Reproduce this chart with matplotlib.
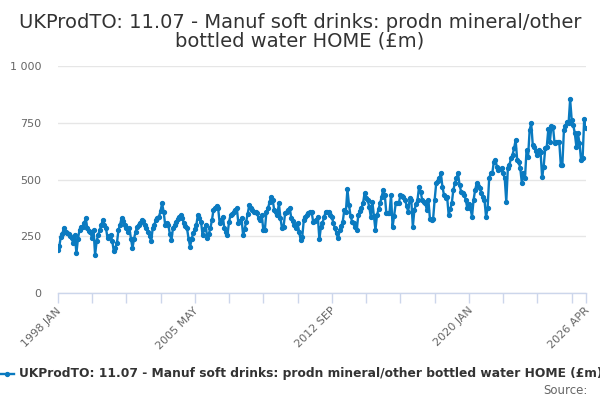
import matplotlib
matplotlib.use("Agg")
import matplotlib.pyplot as plt
from matplotlib.lines import Line2D
import numpy as np

title = "UKProdTO: 11.07 - Manuf soft drinks: prodn mineral/other\nbottled water HOME (£m)"
series_name = "UKProdTO: 11.07 - Manuf soft drinks: prodn mineral/other bottled water HOME (£m)"

# monthly values, 1998 JAN ... 2026 APR
v1998 = [189, 205, 248, 262, 288, 270, 263, 259, 250, 241, 219, 256]
v1999 = [175, 240, 278, 292, 292, 307, 329, 285, 275, 270, 241, 278]
v2000 = [167, 230, 256, 278, 300, 322, 300, 285, 241, 250, 256, 230]
v2001 = [185, 200, 219, 278, 300, 329, 315, 300, 285, 270, 285, 240]
v2002 = [197, 240, 270, 290, 300, 310, 322, 315, 300, 285, 270, 250]
v2003 = [229, 285, 300, 322, 330, 336, 360, 395, 358, 300, 310, 300]
v2004 = [260, 233, 285, 300, 314, 325, 335, 344, 330, 307, 295, 285]
v2005 = [240, 204, 240, 263, 280, 300, 344, 330, 314, 256, 280, 300]
v2006 = [241, 260, 285, 320, 366, 375, 385, 373, 307, 320, 336, 285]
v2007 = [270, 256, 314, 344, 350, 358, 365, 373, 307, 315, 329, 256]
v2008 = [280, 314, 350, 388, 375, 366, 358, 355, 351, 329, 322, 344]
v2009 = [278, 278, 358, 373, 400, 424, 410, 366, 355, 344, 395, 330]
v2010 = [285, 292, 351, 358, 366, 373, 329, 315, 300, 285, 307, 270]
v2011 = [233, 248, 322, 335, 344, 351, 355, 358, 314, 318, 322, 336]
v2012 = [236, 292, 310, 333, 358, 358, 358, 345, 336, 307, 285, 263]
v2013 = [241, 278, 295, 314, 366, 358, 457, 388, 340, 314, 307, 290]
v2014 = [278, 344, 360, 373, 395, 439, 420, 410, 380, 336, 402, 340]
v2015 = [278, 344, 370, 395, 424, 454, 432, 351, 351, 351, 432, 292]
v2016 = [340, 395, 395, 395, 432, 428, 424, 410, 385, 358, 417, 410]
v2017 = [292, 366, 390, 410, 468, 446, 410, 400, 395, 366, 410, 325]
v2018 = [320, 325, 410, 483, 495, 505, 527, 468, 432, 417, 424, 344]
v2019 = [370, 395, 454, 483, 505, 527, 476, 446, 440, 432, 410, 373]
v2020 = [390, 373, 336, 410, 454, 483, 470, 461, 439, 425, 410, 336]
v2021 = [373, 505, 527, 527, 578, 586, 557, 542, 545, 549, 527, 505]
v2022 = [402, 549, 564, 593, 608, 637, 674, 586, 578, 549, 483, 527]
v2023 = [505, 630, 600, 718, 747, 652, 645, 625, 608, 630, 623, 510]
v2024 = [557, 637, 645, 722, 667, 736, 733, 659, 663, 667, 667, 564]
v2025 = [564, 718, 735, 755, 747, 853, 762, 740, 703, 645, 703, 660]
v2026 = [586, 593, 765, 725]

values = (v1998 + v1999 + v2000 + v2001 + v2002 + v2003 + v2004 + v2005 + v2006 +
          v2007 + v2008 + v2009 + v2010 + v2011 + v2012 + v2013 + v2014 + v2015 +
          v2016 + v2017 + v2018 + v2019 + v2020 + v2021 + v2022 + v2023 + v2024 +
          v2025 + v2026)

tick_labels = ["1998 JAN", "2005 MAY", "2012 SEP", "2020 JAN", "2026 APR"]
y_ticks = [0, 250, 500, 750, 1000]
y_tick_labels = ["0", "250", "500", "750", "1 000"]

n = len(values)
x = np.arange(n)
label_pos = [0, 88, 176, 264, n - 1]
tick_pos = list(range(0, n - 1, 22)) + [n - 1]

line_color = "#0a7ac0"
text_color = "#333333"
axis_color = "#ccd6eb"

fig = plt.figure(figsize=(6, 4), dpi=100)
ax = fig.add_axes([0.0962, 0.2675, 0.880, 0.5675])

ax.plot(x, values, color=line_color, lw=1.7, marker="o", ms=2.8, zorder=3,
        solid_joinstyle="round")
ax.set_xlim(0, n - 1)
ax.set_ylim(0, 1000)

ax.set_yticks(y_ticks)
ax.set_yticklabels(y_tick_labels, fontsize=8, color="#666666")
ax.tick_params(axis="y", length=0, pad=12)
ax.grid(axis="y", color="#e6e6e6", lw=1)
ax.set_axisbelow(True)

ax.set_xticks(tick_pos)
ax.set_xticklabels([""] * len(tick_pos))
ax.tick_params(axis="x", length=7.5, width=1, color=axis_color, direction="out")
for p, lab in zip(label_pos, tick_labels):
    ax.annotate(lab, xy=(p, 0), xycoords=("data", "axes fraction"),
                xytext=(-1, -9), textcoords="offset points",
                rotation=45, ha="right", va="top", rotation_mode="anchor",
                fontsize=8, color="#666666")

for s in ["top", "right", "left"]:
    ax.spines[s].set_visible(False)
ax.spines["bottom"].set_color(axis_color)
ax.spines["bottom"].set_linewidth(1)

fig.text(0.5, 0.968, title, ha="center", va="top", fontsize=14,
         color=text_color, linespacing=1.0)

# legend
fig.add_artist(Line2D([0.0, 0.024], [0.066, 0.066], color=line_color, lw=1.7,
                      transform=fig.transFigure))
fig.add_artist(Line2D([0.012], [0.066], color=line_color, marker="o", ms=2.8,
                      transform=fig.transFigure))
fig.text(0.031, 0.066, series_name, ha="left", va="center", fontsize=8.8,
         fontweight="bold", color=text_color)
fig.text(0.98, 0.024, "Source:", ha="right", va="center", fontsize=8.5,
         color="#666666")

fig.savefig("out.png", dpi=100)
